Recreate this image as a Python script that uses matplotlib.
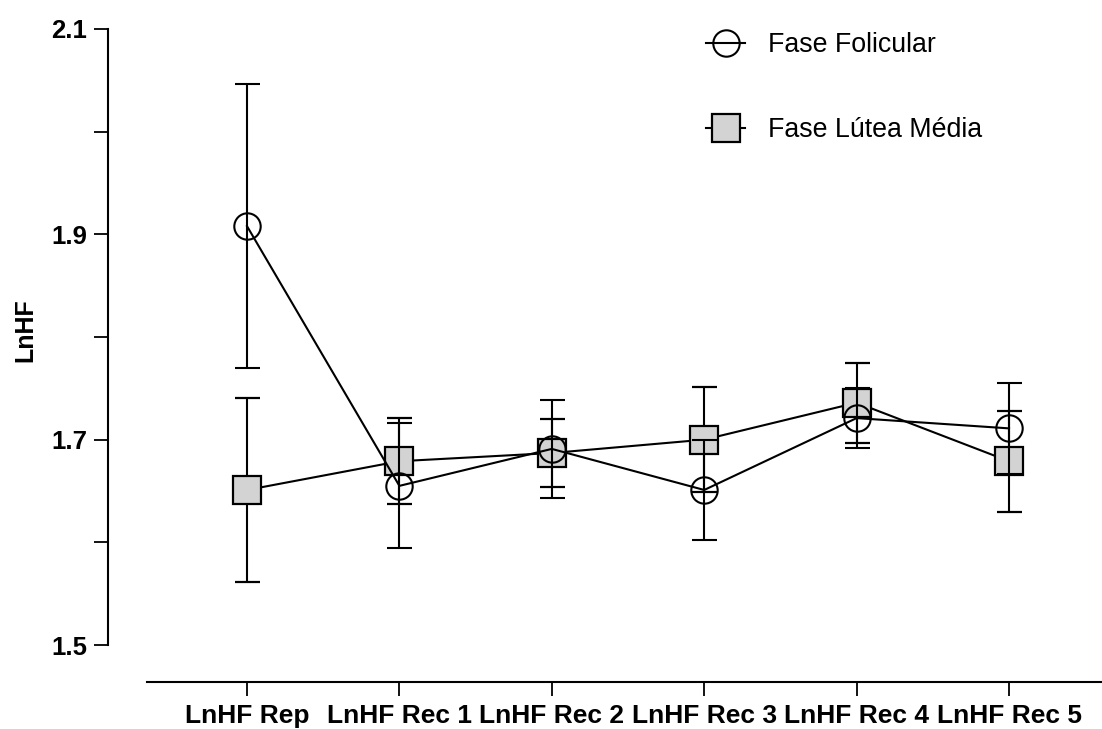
import numpy as np
import matplotlib.pyplot as plt
from matplotlib.lines import Line2D

plt.rcParams['font.family'] = ['Liberation Sans', 'DejaVu Sans']

momentos = ['LnHF Rep', 'LnHF Rec 1', 'LnHF Rec 2', 'LnHF Rec 3', 'LnHF Rec 4', 'LnHF Rec 5']

# medias e erro (LnHF) por fase do ciclo
folicular = [1.908, 1.655, 1.691, 1.651, 1.721, 1.711]
folicular_err = [0.138, 0.061, 0.048, 0.049, 0.029, 0.044]
lutea = [1.651, 1.679, 1.687, 1.700, 1.736, 1.679]
lutea_err = [0.090, 0.042, 0.033, 0.051, 0.039, 0.049]

fig = plt.figure(figsize=(11.02, 7.29), dpi=100)
ax = fig.add_axes([147/1102, 1 - 645/729, 955/1102, 616/729])

x = np.arange(len(momentos))
lw = 1.5

ax.errorbar(x, lutea, yerr=lutea_err, color='black', lw=lw, elinewidth=lw,
            capsize=9, capthick=lw, marker='s', markersize=19.5,
            markerfacecolor='#d3d3d3', markeredgecolor='black', markeredgewidth=1.6,
            zorder=2)
ax.errorbar(x, folicular, yerr=folicular_err, color='black', lw=lw, elinewidth=lw,
            capsize=9, capthick=lw, marker='o', markersize=19,
            markerfacecolor='none', markeredgecolor='black', markeredgewidth=1.5,
            zorder=3)

ax.set_xlim(-0.656, 5.61)
ax.set_ylim(1.5, 2.1)
ax.set_yticks([1.5, 1.7, 1.9, 2.1])
ax.set_yticks([1.6, 1.8, 2.0], minor=True)
ax.set_xticks(x)
ax.set_xticklabels(momentos)

for s in ['top', 'right']:
    ax.spines[s].set_visible(False)
ax.spines['left'].set_position(('outward', 28))
ax.spines['bottom'].set_position(('outward', 26.5))
ax.spines['left'].set_linewidth(1.5)
ax.spines['bottom'].set_linewidth(1.5)

ax.tick_params(axis='y', which='both', length=10, width=1.3, pad=5, labelsize=18.5)
ax.tick_params(axis='x', length=10, width=1.3, pad=6, labelsize=19)
for lab in ax.get_xticklabels() + ax.get_yticklabels():
    lab.set_fontweight('bold')

ax.set_ylabel('LnHF', fontsize=18, fontweight='bold')
ax.yaxis.set_label_coords(-0.1145, 0.511)

handles = [
    Line2D([], [], color='black', lw=lw, marker='o', markersize=19,
           markerfacecolor='none', markeredgewidth=1.5),
    Line2D([], [], color='black', lw=lw, marker='s', markersize=19.5,
           markerfacecolor='#d3d3d3', markeredgewidth=1.6),
]
fig.legend(handles, ['Fase Folicular', 'Fase Lútea Média'], loc='upper left',
           bbox_to_anchor=(682/1102, 1 - 8/729), frameon=False, fontsize=19.3,
           handlelength=1.45, handletextpad=0.85, labelspacing=2.2)

fig.savefig('out.png', dpi=100)
